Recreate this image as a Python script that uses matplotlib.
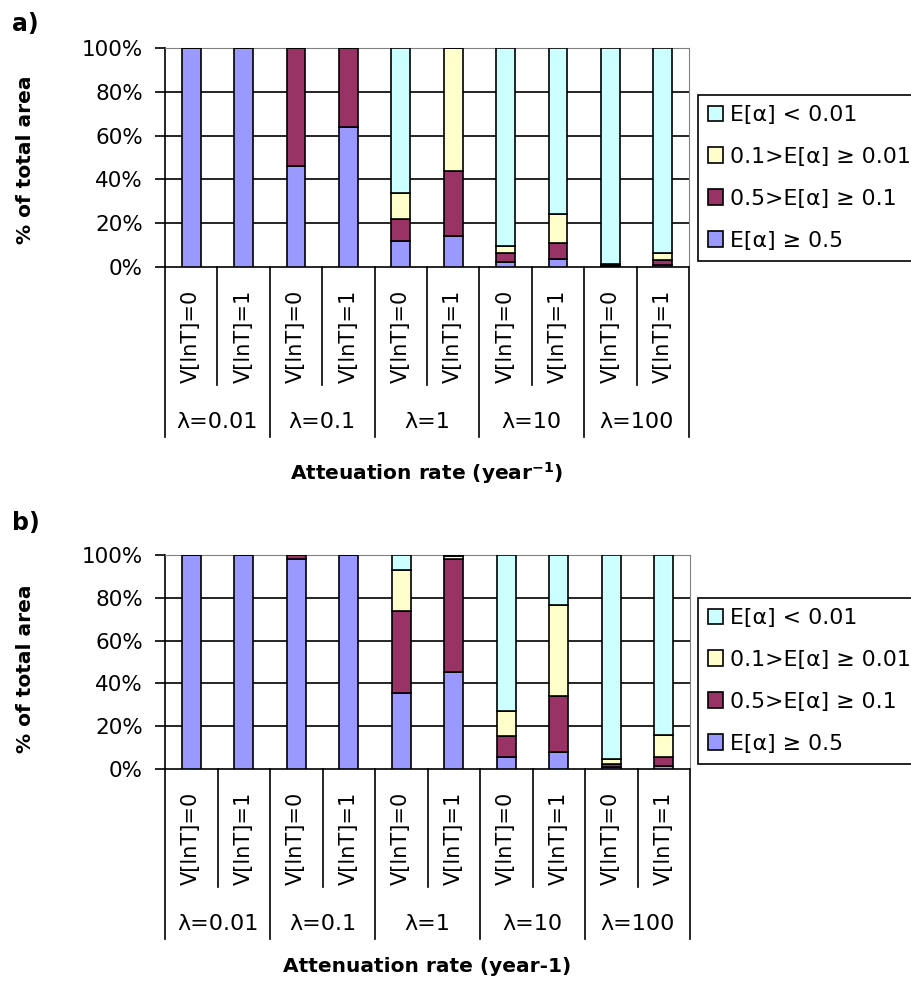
import matplotlib
matplotlib.use("Agg")
import matplotlib.pyplot as plt
import numpy as np

# categories
variance_labels = ["V[lnT]=0", "V[lnT]=1"]
lambda_labels = ["λ=0.01", "λ=0.1", "λ=1", "λ=10", "λ=100"]
series_names = ["E[α] ≥ 0.5", "0.5>E[α] ≥ 0.1", "0.1>E[α] ≥ 0.01", "E[α] < 0.01"]
series_colors = ["#9999FF", "#993366", "#FFFFCC", "#CCFFFF"]

# panel a) values (% of total area), bottom to top
a_high = [100, 100, 46, 64, 12, 14, 2.5, 3.5, 0.3, 1]
a_mid = [0, 0, 54, 36, 10, 30, 4, 7.5, 0.8, 2]
a_low = [0, 0, 0, 0, 12, 56, 3, 13, 0.4, 3.5]
a_min = [0, 0, 0, 0, 66, 0, 90.5, 76, 98.5, 93.5]

# panel b) values
b_high = [100, 100, 98, 100, 35.5, 45.5, 5.5, 8, 1, 1.5]
b_mid = [0, 0, 2, 0, 38.5, 52.5, 10, 26, 1.5, 4]
b_low = [0, 0, 0, 0, 19, 1.5, 11.5, 42.5, 2, 10.5]
b_min = [0, 0, 0, 0, 7, 0.5, 73, 23.5, 95.5, 84]

W, H = 911, 981
fig = plt.figure(figsize=(W / 100, H / 100), dpi=100)
fig.patch.set_facecolor("white")


def draw_panel(rect_px, series, tag, tag_y, xlabel, xlab_off, legend_top, ylab_y):
    x0, y0, x1, y1 = rect_px  # left, top, right, bottom in pixels
    ax = fig.add_axes([x0 / W, 1 - y1 / H, (x1 - x0) / W, (y1 - y0) / H])
    ax_h = y1 - y0
    n = len(variance_labels) * len(lambda_labels)
    x = np.arange(n)
    bottom = np.zeros(n)
    bars = []
    for vals, name, col in zip(series, series_names, series_colors):
        b = ax.bar(x, vals, 0.36, bottom=bottom, color=col, edgecolor="black",
                   linewidth=1.2, label=name, zorder=3)
        bottom += np.array(vals)
        bars.append(b)

    ax.set_xlim(-0.5, n - 0.5)
    ax.set_ylim(0, 100)
    ax.set_yticks(range(0, 101, 20))
    ax.set_yticklabels([f"{v}%" for v in range(0, 101, 20)], fontsize=15.5)
    ax.tick_params(axis="y", direction="out", length=7, width=1.2, pad=9)
    ax.set_xticks([])
    for v in range(20, 100, 20):
        ax.axhline(v, color="black", lw=1.2, zorder=1)
    for s in ["top", "right"]:
        ax.spines[s].set_color("#808080")
    ax.spines["left"].set_linewidth(1.2)
    ax.spines["bottom"].set_linewidth(1.2)

    # multi-level category axis
    trans = ax.get_xaxis_transform()
    for i in range(n + 1):
        xpos = i - 0.5
        depth = 170 if i % 2 == 0 else 118
        ax.plot([xpos, xpos], [0, -depth / ax_h], color="black", lw=1.2,
                transform=trans, clip_on=False)
    for i in range(n):
        ax.annotate(variance_labels[i % 2], xy=(i, 0), xycoords=trans,
                    xytext=(0, -69), textcoords="offset pixels", rotation=90,
                    ha="center", va="center", fontsize=15)
    for g, lab in enumerate(lambda_labels):
        ax.annotate(lab, xy=(2 * g + 0.5, 0), xycoords=trans,
                    xytext=(0, -155), textcoords="offset pixels",
                    ha="center", va="center", fontsize=16)
    ax.annotate(xlabel, xy=(0.5, 0), xycoords="axes fraction",
                xytext=(0, xlab_off), textcoords="offset pixels",
                ha="center", va="center", fontsize=14.5, fontweight="bold")

    fig.text(26 / W, 1 - ylab_y / H, "% of total area", rotation=90,
             ha="center", va="center", fontsize=14.5, fontweight="bold")
    fig.text(12 / W, 1 - tag_y / H, tag, ha="left", va="center",
             fontsize=17, fontweight="bold")

    leg = ax.legend(bars[::-1], series_names[::-1], loc="upper left",
                    bbox_to_anchor=(698 / W, 1 - legend_top / H),
                    bbox_transform=fig.transFigure, borderaxespad=0,
                    fontsize=15.8, handlelength=0.7, handleheight=0.7,
                    handletextpad=0.3, labelspacing=1.0, borderpad=0.45,
                    frameon=True, fancybox=False, framealpha=1,
                    edgecolor="black")
    leg.get_frame().set_linewidth(1.2)
    return ax


draw_panel((165, 48, 689, 267), [a_high, a_mid, a_low, a_min], "a)", 24,
           r"Atteuation rate (year$^{\mathbf{-1}}$)", -206, 95, 160)
draw_panel((165, 555, 690, 769), [b_high, b_mid, b_low, b_min], "b)", 523,
           "Attenuation rate (year-1)", -198, 598, 669)

fig.savefig("out.png", dpi=100, facecolor="white")
